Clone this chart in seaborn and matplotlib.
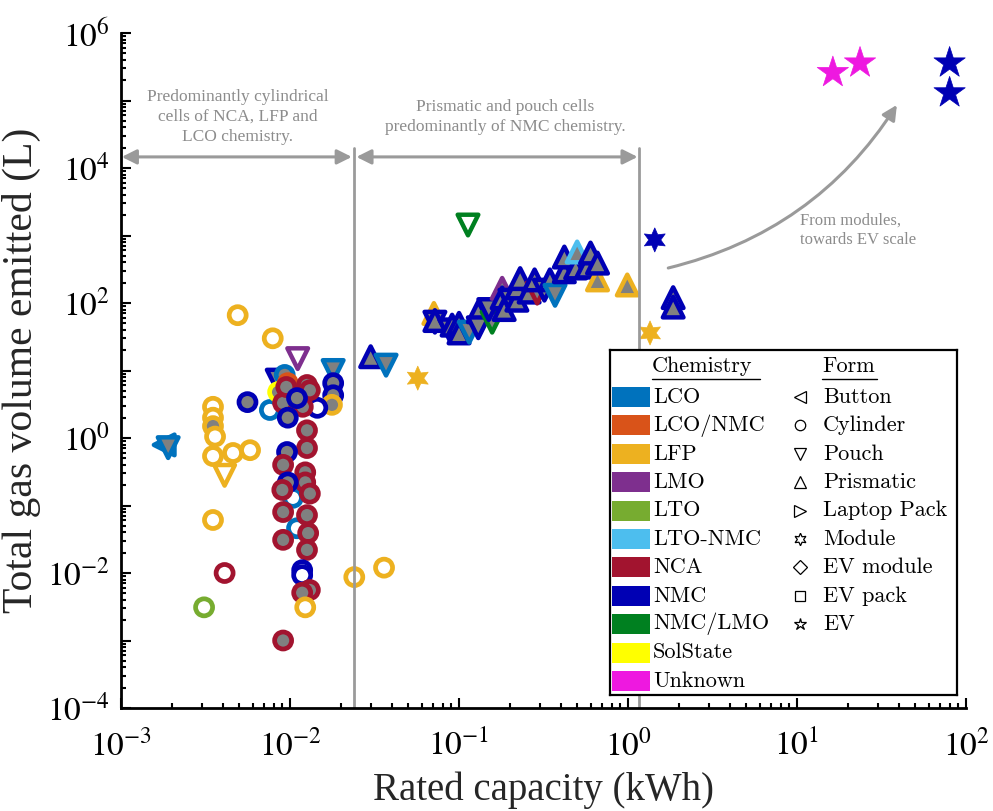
import numpy as np
import pandas as pd
import seaborn as sns
import matplotlib.pyplot as plt
from matplotlib.colors import to_rgba
from matplotlib.patches import Rectangle

# rated capacity (kWh), total gas (L), chemistry, form, marker fill
capacity = [
    0.0049, 0.0079, 0.0076, 0.011, 0.0104, 0.0035, 0.0035, 0.0035, 0.0036, 0.0035,
    0.0046, 0.0058, 0.0041, 0.0035, 0.0018, 0.0019, 0.0111, 0.018, 0.018, 0.018,
    0.0177, 0.0056, 0.0145, 0.0084, 0.0093, 0.0097, 0.0085, 0.0091, 0.0126, 0.0131,
    0.0095, 0.0119, 0.011, 0.0097, 0.0126, 0.0126, 0.0096, 0.0091, 0.0123, 0.0123,
    0.0097, 0.009, 0.0131, 0.0091, 0.0126, 0.0128, 0.0091, 0.0126, 0.0118, 0.0118,
    0.0131, 0.0118, 0.0123, 0.0091, 0.0041, 0.0031, 0.024, 0.036,
    0.113, 0.03, 0.037, 0.057, 0.071, 0.072, 0.072, 0.088, 0.091, 0.1,
    0.1, 0.115, 0.13, 0.13, 0.157, 0.15, 0.18, 0.18, 0.185, 0.2,
    0.22, 0.22, 0.23, 0.26, 0.29, 0.28, 0.32, 0.345, 0.37, 0.42,
    0.42, 0.49, 0.5, 0.57, 0.6, 0.66, 0.66, 0.99, 1.44, 1.85,
    1.85, 1.35, 16.3, 23.6, 80, 80,
]
gas_volume = [
    66, 30, 2.6, 0.046, 0.13, 2.9, 2.0, 1.5, 1.05, 0.54,
    0.6, 0.66, 0.28, 0.061, 0.79, 0.72, 15, 10, 6.5, 4.3,
    3.1, 3.4, 2.8, 7.2, 8.6, 6.5, 4.8, 3.3, 6.1, 5.1,
    5.7, 2.9, 3.9, 2.0, 1.3, 0.71, 0.62, 0.40, 0.31, 0.22,
    0.22, 0.17, 0.15, 0.08, 0.072, 0.039, 0.031, 0.022, 0.011, 0.0093,
    0.0056, 0.0051, 0.0031, 0.001, 0.01, 0.0031, 0.0087, 0.012,
    1430, 16, 12, 7.7, 70, 52, 55, 40, 47, 50,
    36, 37, 74, 43, 52, 80, 165, 119, 80, 110,
    110, 167, 230, 145, 140, 220, 155, 220, 130, 290,
    480, 330, 570, 340, 550, 220, 390, 185, 860, 120,
    87, 36, 2.6e5, 3.6e5, 3.6e5, 1.3e5,
]
chemistry = [
    'LFP', 'LFP', 'LCO', 'LCO', 'LCO', 'LFP', 'LFP', 'LFP', 'LFP', 'LFP',
    'LFP', 'LFP', 'LFP', 'LFP', 'LCO', 'LCO', 'LMO', 'LCO', 'NMC', 'NMC',
    'LFP', 'NMC', 'NMC', 'NMC', 'LCO', 'LCO/NMC', 'SolState', 'NCA', 'NCA', 'NCA',
    'NCA', 'NCA', 'NMC', 'NMC', 'NCA', 'NCA', 'NMC', 'NCA', 'NCA', 'NCA',
    'NMC', 'NCA', 'NCA', 'NCA', 'NCA', 'NCA', 'NCA', 'NCA', 'NMC', 'NMC',
    'NCA', 'NCA', 'LFP', 'NCA', 'NCA', 'LTO', 'LFP', 'LFP',
    'NMC/LMO', 'NMC', 'LCO', 'LFP', 'LFP', 'NMC', 'NMC', 'NMC', 'NMC', 'NMC',
    'NMC', 'LCO', 'NMC', 'NMC', 'NMC/LMO', 'NMC', 'LMO', 'NMC', 'NMC', 'NMC',
    'NMC', 'NMC', 'NMC', 'NMC', 'NCA', 'NMC', 'NMC', 'NMC', 'LCO', 'NMC',
    'NMC', 'NMC', 'LTO-NMC', 'NMC', 'NMC', 'LFP', 'NMC', 'LFP', 'NMC', 'NMC',
    'NMC', 'LFP', 'Unknown', 'Unknown', 'NMC', 'NMC',
]
form = [
    'Cylinder', 'Cylinder', 'Cylinder', 'Cylinder', 'Cylinder', 'Cylinder', 'Cylinder', 'Cylinder', 'Cylinder', 'Cylinder',
    'Cylinder', 'Cylinder', 'Pouch', 'Cylinder', 'Button', 'Pouch', 'Pouch', 'Pouch', 'Cylinder', 'Cylinder',
    'Cylinder', 'Cylinder', 'Cylinder', 'Pouch', 'Cylinder', 'Cylinder', 'Cylinder', 'Cylinder', 'Cylinder', 'Cylinder',
    'Cylinder', 'Cylinder', 'Cylinder', 'Cylinder', 'Cylinder', 'Cylinder', 'Cylinder', 'Cylinder', 'Cylinder', 'Cylinder',
    'Cylinder', 'Cylinder', 'Cylinder', 'Cylinder', 'Cylinder', 'Cylinder', 'Cylinder', 'Cylinder', 'Cylinder', 'Cylinder',
    'Cylinder', 'Cylinder', 'Cylinder', 'Cylinder', 'Cylinder', 'Cylinder', 'Cylinder', 'Cylinder',
    'Pouch', 'Prismatic', 'Pouch', 'Module', 'Prismatic', 'Pouch', 'Prismatic', 'Pouch', 'Prismatic', 'Prismatic',
    'Prismatic', 'Pouch', 'Prismatic', 'Pouch', 'Pouch', 'Pouch', 'Prismatic', 'Prismatic', 'Prismatic', 'Pouch',
    'Prismatic', 'Prismatic', 'Prismatic', 'Prismatic', 'Pouch', 'Prismatic', 'Pouch', 'Prismatic', 'Pouch', 'Prismatic',
    'Prismatic', 'Prismatic', 'Prismatic', 'Prismatic', 'Prismatic', 'Prismatic', 'Prismatic', 'Prismatic', 'Module', 'Prismatic',
    'Prismatic', 'Module', 'EV', 'EV', 'EV', 'EV',
]
fill = [
    'white', 'white', 'white', 'white', 'white', 'white', 'white', 'gray', 'white', 'white',
    'white', 'white', 'white', 'white', 'gray', 'gray', 'white', 'gray', 'gray', 'gray',
    'gray', 'gray', 'white', 'gray', 'gray', 'gray', 'gray', 'gray', 'gray', 'gray',
    'gray', 'gray', 'gray', 'gray', 'gray', 'gray', 'gray', 'gray', 'gray', 'gray',
    'gray', 'gray', 'gray', 'gray', 'gray', 'gray', 'gray', 'gray', 'white', 'white',
    'gray', 'gray', 'white', 'gray', 'white', 'white', 'white', 'white',
    'white', 'gray', 'gray', 'solid', 'gray', 'gray', 'gray', 'gray', 'gray', 'gray',
    'gray', 'gray', 'gray', 'gray', 'gray', 'gray', 'gray', 'gray', 'gray', 'gray',
    'gray', 'gray', 'gray', 'gray', 'gray', 'gray', 'gray', 'gray', 'gray', 'gray',
    'gray', 'gray', 'gray', 'gray', 'gray', 'gray', 'gray', 'gray', 'solid', 'gray',
    'gray', 'solid', 'solid', 'solid', 'solid', 'solid',
]

chem_names = ['LCO', 'LCO/NMC', 'LFP', 'LMO', 'LTO', 'LTO-NMC', 'NCA', 'NMC',
              'NMC/LMO', 'SolState', 'Unknown']
chem_colors = ['#0072BD', '#D95319', '#EDB120', '#7E2F8E', '#77AC30', '#4DBEEE',
               '#A2142F', '#0000B4', '#008020', '#FFFF00', '#EE18E0']
form_names = ['Button', 'Cylinder', 'Pouch', 'Prismatic', 'Laptop Pack', 'Module',
              'EV module', 'EV pack', 'EV']
form_markers = ['<', 'o', 'v', '^', '>', (6, 1, 0), 'D', 's', '*']
form_sizes = {'Button': 220, 'Cylinder': 150, 'Pouch': 220, 'Prismatic': 220,
              'Module': 300, 'EV': 560}
form_lw = {'Button': 3.2, 'Cylinder': 3.4, 'Pouch': 3.2, 'Prismatic': 3.2,
           'Module': 0.5, 'EV': 0.5}

df = pd.DataFrame({'capacity': capacity, 'gas': gas_volume, 'chemistry': chemistry,
                   'form': form, 'fill': fill})

sns.set_theme(style='ticks')
plt.rcParams['font.family'] = ['Liberation Serif', 'DejaVu Serif']
plt.rcParams['mathtext.fontset'] = 'stix'

fig = plt.figure(figsize=(9.93, 8.11), dpi=100)
ax = fig.add_axes([0.1219, 0.127, 0.8509, 0.8323])

used_forms = [f for f in form_names if f in set(form)]
sns.scatterplot(data=df, x='capacity', y='gas', hue='chemistry', style='form', size='form',
                palette=dict(zip(chem_names, chem_colors)),
                markers={f: m for f, m in zip(form_names, form_markers) if f in used_forms},
                sizes=form_sizes, legend=False, ax=ax)

pts = ax.collections[0]
edge = np.array(pts.get_facecolors())
face = [edge[i] if f == 'solid' else to_rgba('#808080' if f == 'gray' else 'white')
        for i, f in enumerate(df['fill'])]
pts.set_edgecolors(edge)
pts.set_facecolors(face)
pts.set_linewidths([form_lw[f] for f in df['form']])

ax.set_xscale('log')
ax.set_yscale('log')
ax.set_xlim(1e-3, 1e2)
ax.set_ylim(1e-4, 1e6)
ax.set_xticks(10.0 ** np.arange(-3, 3))
ax.set_xticklabels([r'$10^{%d}$' % e for e in range(-3, 3)])
ax.set_yticks(10.0 ** np.arange(-4, 7))
ax.set_yticklabels([r'$10^{%d}$' % e if e % 2 == 0 else '' for e in range(-4, 7)])
ax.xaxis.set_minor_locator(plt.matplotlib.ticker.LogLocator(10, subs=np.arange(2, 10), numticks=100))
ax.yaxis.set_minor_locator(plt.matplotlib.ticker.LogLocator(10, subs=np.arange(2, 10), numticks=100))
ax.xaxis.set_minor_formatter(plt.NullFormatter())
ax.yaxis.set_minor_formatter(plt.NullFormatter())
ax.tick_params(which='both', direction='in', width=1.5, colors='black', labelsize=24)
ax.tick_params(which='major', length=7)
ax.tick_params(which='minor', length=3.5)
ax.tick_params(axis='x', pad=16)
ax.tick_params(axis='y', pad=8)
for s in ['left', 'bottom']:
    ax.spines[s].set_linewidth(2)
    ax.spines[s].set_color('black')
sns.despine(ax=ax)
ax.set_xlabel('Rated capacity (kWh)', fontsize=28, labelpad=6)
ax.set_ylabel('Total gas volume emitted (L)', fontsize=30, labelpad=4)

# region markers and annotations
grey = '#9a9a9a'
ax.plot([0.024, 0.024], [1e-4, 2e4], color=grey, lw=2)
ax.plot([1.16, 1.16], [1e-4, 2e4], color=grey, lw=2)
arrow = dict(arrowstyle='<|-|>', color=grey, lw=2.2, mutation_scale=22, shrinkA=0, shrinkB=0)
ax.annotate('', xy=(0.00101, 1.46e4), xytext=(0.0232, 1.46e4), arrowprops=arrow)
ax.annotate('', xy=(0.0247, 1.46e4), xytext=(1.14, 1.46e4), arrowprops=arrow)
ax.annotate('', xy=(39, 8.6e4), xytext=(1.73, 330),
            arrowprops=dict(arrowstyle='-|>', color=grey, lw=2.2, mutation_scale=22,
                            shrinkA=0, shrinkB=0, connectionstyle='arc3,rad=0.2'))
txt = dict(color='#8c8c8c', fontsize=12.5, linespacing=1.3)
ax.text(0.0049, 5.7e4, 'Predominantly cylindrical\ncells of NCA, LFP and\nLCO chemistry.',
        ha='center', va='center', **txt)
ax.text(0.187, 5.7e4, 'Prismatic and pouch cells\npredominantly of NMC chemistry.',
        ha='center', va='center', **txt)
ax.text(10.4, 1.2e3, 'From modules,\ntowards EV scale', ha='left', va='center',
        color='#8c8c8c', fontsize=12, linespacing=1.3)

# legend box drawn in pixel-like coordinates
lg = fig.add_axes([610 / 993, 1 - 695 / 811, 347 / 993, 345 / 811])
lg.set_xlim(610, 957)
lg.set_ylim(695, 350)
lg.set_xticks([])
lg.set_yticks([])
for s in lg.spines.values():
    s.set_visible(True)
    s.set_linewidth(1.6)
    s.set_color('black')
lg.set_facecolor('white')
lfont = dict(family='cmr10', fontsize=16, va='center', color='black')
lg.text(652, 366, 'Chemistry', ha='left', **lfont)
lg.plot([652, 760], [379, 379], color='black', lw=1)
lg.text(822, 366, 'Form', ha='left', **lfont)
lg.plot([822, 877], [379, 379], color='black', lw=1)
for i, (name, col) in enumerate(zip(chem_names, chem_colors)):
    yy = 397 + 28.4 * i
    lg.add_patch(Rectangle((612, yy - 10), 38, 20, color=col, lw=0))
    lg.text(653, yy, name, ha='left', **lfont)
for i, (name, mk) in enumerate(zip(form_names, form_markers)):
    yy = 397 + 28.4 * i
    ms = 9 if mk not in ('o', 's', 'D') else 7.5
    lg.plot([800], [yy], marker=mk, ms=ms, mfc='none', mec='black', mew=0.9, ls='none')
    lg.text(823, yy, name, ha='left', **lfont)

fig.savefig('out.png', dpi=100)
